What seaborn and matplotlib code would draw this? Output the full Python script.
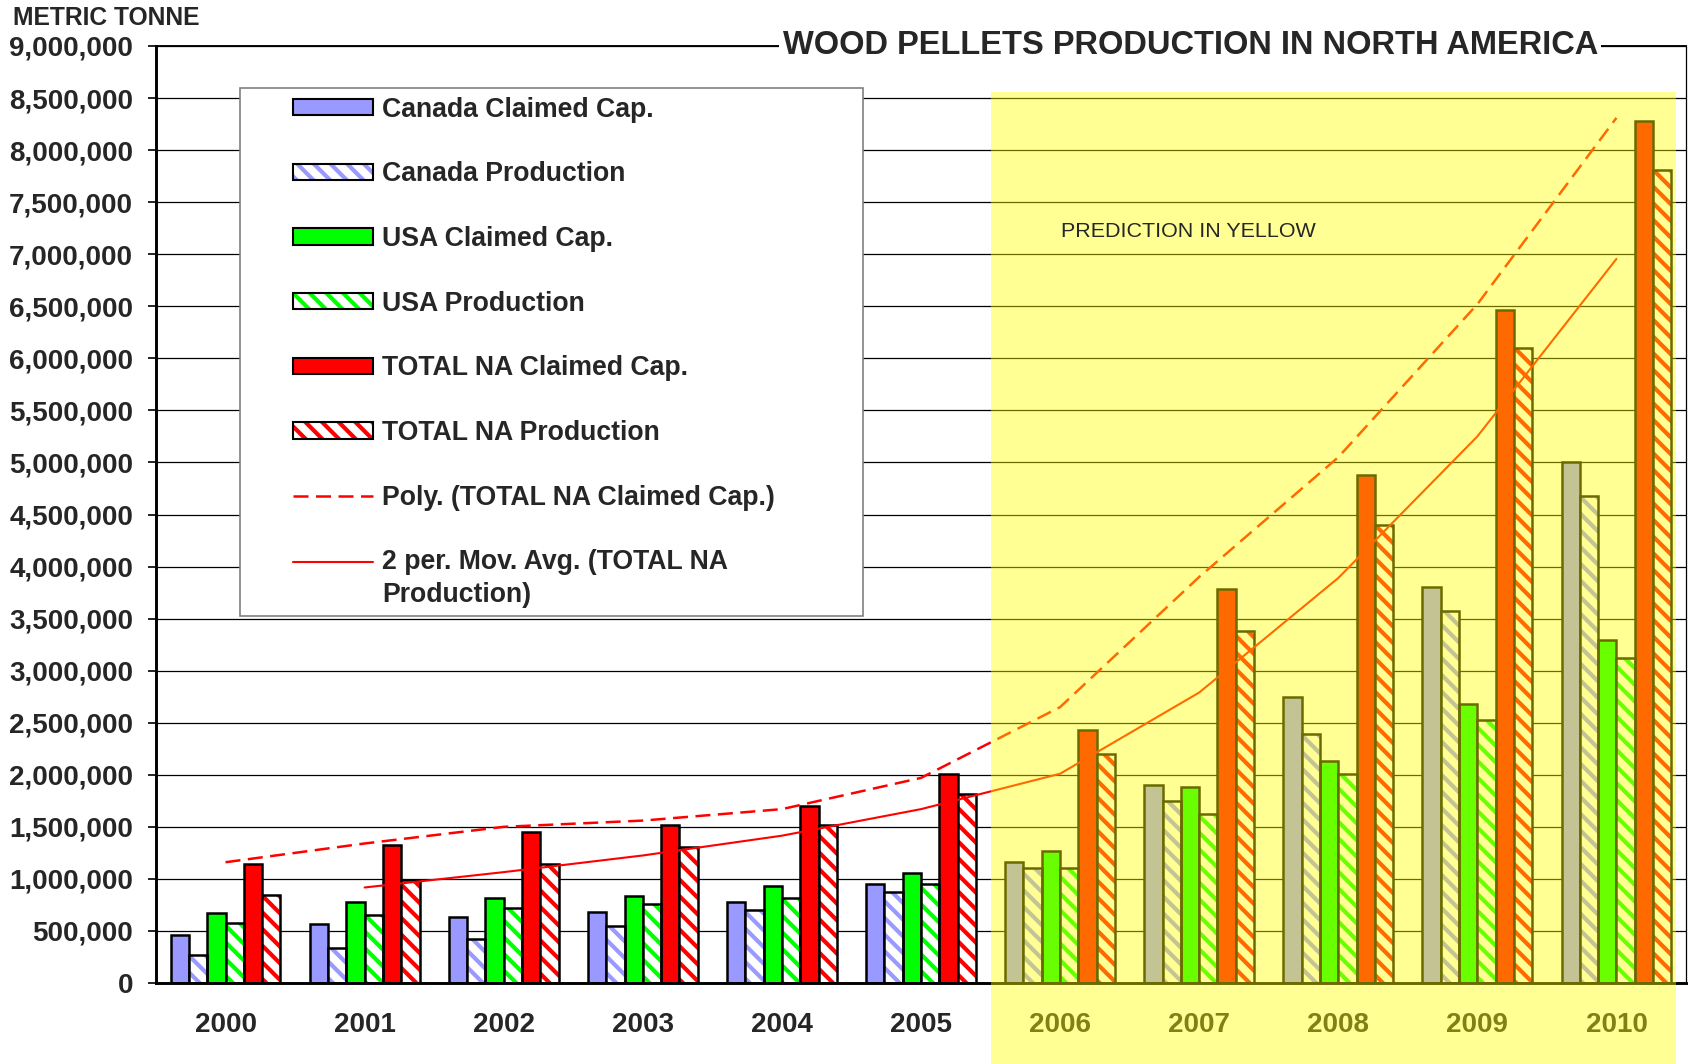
import numpy as np
import pandas as pd
import matplotlib
matplotlib.use('Agg')
import matplotlib.pyplot as plt
import matplotlib.transforms as mtransforms
from matplotlib.patches import Patch, Rectangle
from matplotlib.lines import Line2D
from matplotlib.legend_handler import HandlerTuple
import seaborn as sns

# data (metric tonnes)
years = ['2000', '2001', '2002', '2003', '2004', '2005', '2006', '2007', '2008', '2009', '2010']
canada_cap = [460000, 567000, 630000, 680000, 780000, 950000, 1160000, 1900000, 2750000, 3800000, 5000000]
canada_prod = [270000, 340000, 420000, 550000, 700000, 870000, 1100000, 1750000, 2390000, 3570000, 4680000]
usa_cap = [675000, 780000, 820000, 840000, 930000, 1060000, 1270000, 1880000, 2130000, 2680000, 3290000]
usa_prod = [573000, 653000, 717000, 760000, 820000, 950000, 1100000, 1620000, 2010000, 2530000, 3120000]
total_cap = [1140000, 1330000, 1450000, 1520000, 1700000, 2010000, 2430000, 3780000, 4880000, 6460000, 8280000]
total_prod = [845000, 990000, 1140000, 1310000, 1520000, 1820000, 2200000, 3380000, 4400000, 6100000, 7810000]
poly_trend = [1160000, 1340000, 1500000, 1560000, 1670000, 1970000, 2650000, 3900000, 5050000, 6520000, 8310000]

series_names = ['Canada Claimed Cap.', 'Canada Production', 'USA Claimed Cap.',
                'USA Production', 'TOTAL NA Claimed Cap.', 'TOTAL NA Production']
series_values = [canada_cap, canada_prod, usa_cap, usa_prod, total_cap, total_prod]
series_colors = ['#9999FF', '#9999FF', '#00FF00', '#00FF00', '#FF0000', '#FF0000']
hatched = [False, True, False, True, False, True]

df = pd.DataFrame({
    'year': np.tile(years, len(series_names)),
    'series': np.repeat(series_names, len(years)),
    'value': np.concatenate(series_values),
})

sns.set_style('white')
plt.rcParams['font.family'] = ['Liberation Sans', 'DejaVu Sans']
plt.rcParams['hatch.linewidth'] = 2.0
HATCH = '\\\\\\'

DPI = 150
fig = plt.figure(figsize=(1689 / DPI, 1064 / DPI), dpi=DPI)
ax = fig.add_axes([156 / 1689, 1 - 983 / 1064, 1530 / 1689, 937 / 1064])

sns.barplot(data=df, x='year', y='value', hue='series', hue_order=series_names,
            order=years, palette=series_colors, saturation=1, width=0.79,
            errorbar=None, edgecolor='black', linewidth=1.2, legend=False, ax=ax)

# production bars: white with coloured diagonal stripes, black outline
for cont, col, h in zip(ax.containers, series_colors, hatched):
    if not h:
        continue
    for bar in cont:
        bar.set_facecolor('white')
        bar.set_edgecolor(col)
        bar.set_hatch(HATCH)
        bar.set_linewidth(0)
        ax.add_patch(Rectangle(bar.get_xy(), bar.get_width(), bar.get_height(),
                               fill=False, ec='black', lw=1.2, zorder=bar.get_zorder() + 0.1))

# trend lines
xpos = np.arange(len(years))
ax.plot(xpos, poly_trend, color='#FF0000', lw=1.2, dashes=(6, 3), zorder=4)
mov_avg = pd.Series(total_prod).rolling(2).mean()
ax.plot(xpos, mov_avg, color='#FF0000', lw=1.0, zorder=4)

ax.set_xlim(-0.5, len(years) - 0.5)
ax.set_ylim(0, 9000000)
yt = np.arange(0, 9000001, 500000)
ax.set_yticks(yt)
ax.set_yticklabels([f'{int(v):,}' for v in yt])
ax.set_xticks(xpos)
ax.set_xticklabels(years)
ax.set_xticks(np.arange(-0.5, len(years), 1), minor=True)
ax.set_xlabel('')
ax.set_ylabel('')

ax.set_axisbelow(True)
ax.yaxis.grid(True, color='black', lw=0.6)
ax.xaxis.grid(False)
ax.tick_params(axis='x', which='major', length=0, pad=14, labelsize=13.3)
ax.tick_params(axis='x', which='minor', length=4.5, width=1, direction='out', color='black')
ax.tick_params(axis='y', which='major', length=4, width=0.8, direction='out', pad=7,
               labelsize=13.3, color='black', left=True)
for lbl in ax.get_xticklabels() + ax.get_yticklabels():
    lbl.set_fontweight('bold')

for side, lw in [('left', 1.4), ('bottom', 1.4), ('top', 0.9), ('right', 0.6)]:
    ax.spines[side].set_visible(True)
    ax.spines[side].set_color('black')
    ax.spines[side].set_linewidth(lw)

# title sitting on the top frame line
ax.text(0.676, 1.0, 'WOOD PELLETS PRODUCTION IN NORTH AMERICA', transform=ax.transAxes,
        ha='center', va='center', fontsize=15.7, fontweight='bold', zorder=6,
        bbox=dict(fc='white', ec='none', pad=1.5))
fig.text(13 / 1689, 1 - 18 / 1064, 'METRIC TONNE', ha='left', va='center',
         fontsize=11.8, fontweight='bold')

# legend with its own frame box
ax.add_patch(Rectangle((0.0549, 0.392), 0.407, 0.563, transform=ax.transAxes,
                       fc='white', ec='#808080', lw=0.8, zorder=4.5))
handles = []
for col, h in zip(series_colors, hatched):
    if h:
        handles.append((Patch(fc='white', ec=col, hatch=HATCH, lw=0),
                        Patch(fill=False, ec='black', lw=1.0)))
    else:
        handles.append(Patch(fc=col, ec='black', lw=1.0))
handles.append(Line2D([], [], color='#FF0000', lw=1.2, dashes=(6, 3)))
handles.append(Line2D([], [], color='#FF0000', lw=1.0))
labels = series_names + ['Poly. (TOTAL NA Claimed Cap.)',
                         '2 per. Mov. Avg. (TOTAL NA\nProduction)']
LEG_FS = 12.8
leg = ax.legend(handles, labels, loc='upper left', bbox_to_anchor=(0.0895, 0.946),
                frameon=False, borderpad=0, borderaxespad=0, handlelength=3.0,
                handleheight=0.55, handletextpad=0.35, labelspacing=1.45,
                prop={'size': LEG_FS, 'weight': 'bold'},
                handler_map={tuple: HandlerTuple(ndivide=1, pad=0)})
leg.set_zorder(5)
for t in leg.get_texts():
    t.set_linespacing(1.35)
# put the moving-average handle level with the first line of its label
ma_handle = leg.legend_handles[-1]
ma_handle.set_ydata(np.asarray(ma_handle.get_ydata()) + 0.5 * 1.35 * LEG_FS)

# translucent yellow prediction zone, covering the bars and year labels
blend = mtransforms.blended_transform_factory(ax.transData, fig.transFigure)
zone = Rectangle((5.5, 0), 10.43 - 5.5, 0.914, transform=blend,
                 fc=(1, 1, 0, 0.42), ec='none', zorder=10)
fig.add_artist(zone)
fig.text(6.01, 7220000, 'PREDICTION IN YELLOW', transform=ax.transData,
         ha='left', va='center', fontsize=10.3, zorder=11)

fig.savefig('out.png', dpi=DPI)
